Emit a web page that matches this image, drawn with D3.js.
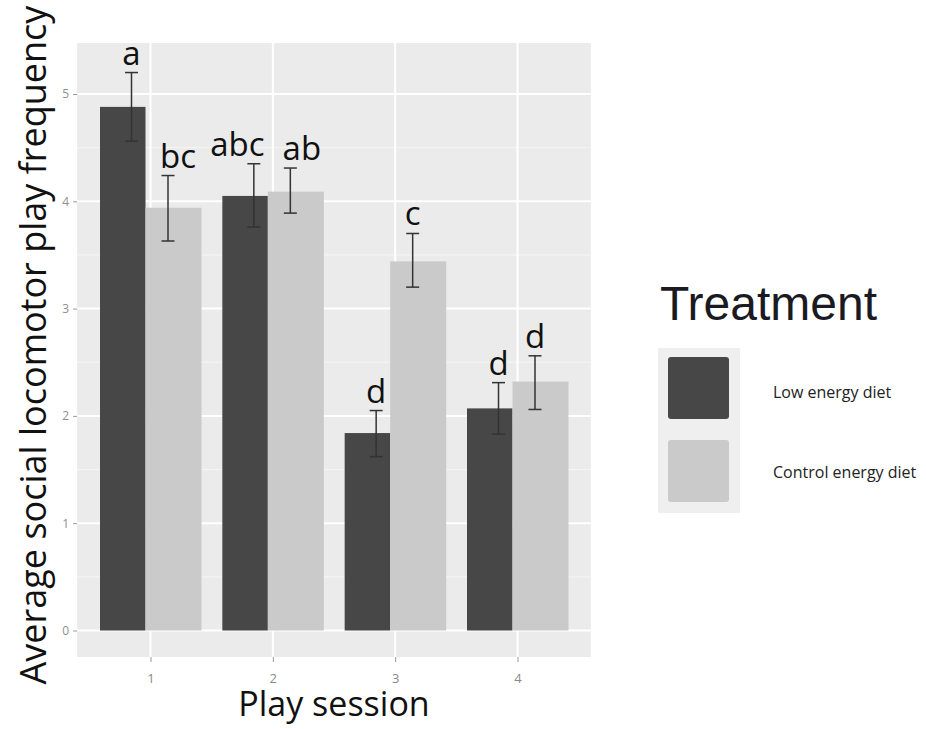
<!DOCTYPE html>
<html>
<head>
<meta charset="utf-8">
<script src="https://cdn.jsdelivr.net/npm/d3@7"></script>
<style>
  html, body { margin: 0; padding: 0; background: #ffffff; }
  svg { display: block; }
</style>
</head>
<body>
<svg id="chart" width="926" height="729"></svg>
<script>
// Play sessions and treatment groups
const sessions = ["1", "2", "3", "4"];
const treatments = ["Low energy diet", "Control energy diet"];

// Mean social locomotor play frequency with error bar limits
const lowMean  = [4.88, 4.05, 1.84, 2.07];
const lowLower = [4.56, 3.76, 1.62, 1.83];
const lowUpper = [5.20, 4.35, 2.05, 2.31];
const ctrlMean  = [3.94, 4.09, 3.44, 2.32];
const ctrlLower = [3.63, 3.89, 3.20, 2.06];
const ctrlUpper = [4.24, 4.31, 3.70, 2.56];

// Significance letters
const lowLetters  = ["a", "abc", "d", "d"];
const ctrlLetters = ["bc", "ab", "c", "d"];

const yTicks = [0, 1, 2, 3, 4, 5];
const yMinorTicks = [0.5, 1.5, 2.5, 3.5, 4.5];

const colors = { low: "#474747", ctrl: "#cacaca" };
const fontMain = "'Open Sans', 'Noto Sans', sans-serif";

const svg = d3.select("#chart");

// Scales
const x = d3.scalePoint().domain(sessions).range([150.5, 517.5]);
const step = x.step();
const y = d3.scaleLinear().domain([0, 5]).range([630.5, 94]);

const panel = { left: x(sessions[0]) - 0.6 * step, right: x(sessions[sessions.length - 1]) + 0.6 * step, top: 43, bottom: 657 };

// Panel background
svg.append("rect")
  .attr("x", panel.left).attr("y", panel.top)
  .attr("width", panel.right - panel.left).attr("height", panel.bottom - panel.top)
  .attr("fill", "#ebebeb");

// Grid lines
svg.append("g").selectAll("line").data(yMinorTicks).join("line")
  .attr("x1", panel.left).attr("x2", panel.right)
  .attr("y1", d => y(d)).attr("y2", d => y(d))
  .attr("stroke", "#f6f6f6").attr("stroke-width", 1);
svg.append("g").selectAll("line").data(yTicks).join("line")
  .attr("x1", panel.left).attr("x2", panel.right)
  .attr("y1", d => y(d)).attr("y2", d => y(d))
  .attr("stroke", "#ffffff").attr("stroke-width", 2);
svg.append("g").selectAll("line").data(sessions).join("line")
  .attr("x1", d => x(d)).attr("x2", d => x(d))
  .attr("y1", panel.top).attr("y2", panel.bottom)
  .attr("stroke", "#ffffff").attr("stroke-width", 2);

// Bar layout within each session group
const lowSpan = [-50.5, -5];
const ctrlSpan = [-5, 51];
const errOffset = { low: -19, ctrl: 17.5 };
// Horizontal nudges that keep neighbouring letter labels apart
const letterNudge = { low: [0, -16.5, 0, 0], ctrl: [10, 11.5, 0, 0] };

const rows = sessions.map((s, i) => ({
  s, i,
  low: { mean: lowMean[i], lo: lowLower[i], hi: lowUpper[i], letter: lowLetters[i] },
  ctrl: { mean: ctrlMean[i], lo: ctrlLower[i], hi: ctrlUpper[i], letter: ctrlLetters[i] }
}));

const bars = svg.append("g");
bars.selectAll("rect.low").data(rows).join("rect").attr("class", "low")
  .attr("x", d => x(d.s) + lowSpan[0])
  .attr("width", lowSpan[1] - lowSpan[0])
  .attr("y", d => y(d.low.mean))
  .attr("height", d => y(0) - y(d.low.mean))
  .attr("fill", colors.low);
bars.selectAll("rect.ctrl").data(rows).join("rect").attr("class", "ctrl")
  .attr("x", d => x(d.s) + ctrlSpan[0])
  .attr("width", ctrlSpan[1] - ctrlSpan[0])
  .attr("y", d => y(d.ctrl.mean))
  .attr("height", d => y(0) - y(d.ctrl.mean))
  .attr("fill", colors.ctrl);

// Error bars and letters
const capHalf = 6.5;
["low", "ctrl"].forEach(key => {
  const g = svg.append("g");
  const ex = d => x(d.s) + errOffset[key];
  g.selectAll("line.v").data(rows).join("line")
    .attr("x1", ex).attr("x2", ex)
    .attr("y1", d => y(d[key].lo)).attr("y2", d => y(d[key].hi))
    .attr("stroke", "#333333").attr("stroke-width", 1.5);
  g.selectAll("line.t").data(rows).join("line")
    .attr("x1", d => ex(d) - capHalf).attr("x2", d => ex(d) + capHalf)
    .attr("y1", d => y(d[key].hi)).attr("y2", d => y(d[key].hi))
    .attr("stroke", "#333333").attr("stroke-width", 1.5);
  g.selectAll("line.b").data(rows).join("line")
    .attr("x1", d => ex(d) - capHalf).attr("x2", d => ex(d) + capHalf)
    .attr("y1", d => y(d[key].lo)).attr("y2", d => y(d[key].lo))
    .attr("stroke", "#333333").attr("stroke-width", 1.5);
  g.selectAll("text").data(rows).join("text")
    .attr("x", d => ex(d) + letterNudge[key][d.i])
    .attr("y", d => y(d[key].hi) - 8)
    .attr("text-anchor", "middle")
    .attr("font-family", fontMain)
    .attr("font-size", 33)
    .attr("fill", "#111111")
    .text(d => d[key].letter);
});

// Axes
const yAxis = svg.append("g")
  .attr("transform", `translate(${panel.left},0)`)
  .call(d3.axisLeft(y).tickValues(yTicks).tickSize(4).tickPadding(4).tickFormat(d3.format("d")));
yAxis.select(".domain").remove();
yAxis.selectAll(".tick line").attr("stroke", "#9a9a9a");
yAxis.selectAll(".tick text").attr("fill", "#8f8f8f").attr("font-size", 12).attr("font-family", fontMain);

const xAxis = svg.append("g")
  .attr("transform", `translate(0,${panel.bottom})`)
  .call(d3.axisBottom(x).tickSize(5).tickPadding(12));
xAxis.select(".domain").remove();
xAxis.selectAll(".tick line").attr("stroke", "#9a9a9a");
xAxis.selectAll(".tick text").attr("fill", "#8a8a8a").attr("font-size", 13).attr("font-family", fontMain);

// Axis titles
svg.append("text")
  .attr("transform", "translate(46,345) rotate(-90)")
  .attr("text-anchor", "middle")
  .attr("font-family", fontMain)
  .attr("font-size", 36)
  .attr("fill", "#111111")
  .text("Average social locomotor play frequency");

svg.append("text")
  .attr("x", (panel.left + panel.right) / 2)
  .attr("y", 716)
  .attr("text-anchor", "middle")
  .attr("font-family", fontMain)
  .attr("font-size", 34)
  .attr("fill", "#111111")
  .text("Play session");

// Legend
const legend = svg.append("g");
legend.append("text")
  .attr("x", 660).attr("y", 320)
  .attr("font-family", "'Liberation Sans', Arial, sans-serif")
  .attr("font-size", 48)
  .attr("fill", "#1a1a22")
  .text("Treatment");
legend.append("rect")
  .attr("x", 658).attr("y", 348).attr("width", 82).attr("height", 165)
  .attr("fill", "#efefef");
const keyColors = [colors.low, colors.ctrl];
const keyY = [357, 440];
const labelY = [398, 478];
treatments.forEach((t, i) => {
  legend.append("rect")
    .attr("x", 668).attr("y", keyY[i]).attr("width", 61).attr("height", 62)
    .attr("rx", 3)
    .attr("fill", keyColors[i]);
  legend.append("text")
    .attr("x", 773).attr("y", labelY[i])
    .attr("font-family", fontMain)
    .attr("font-size", 16)
    .attr("fill", "#222222")
    .text(t);
});
</script>
</body>
</html>
